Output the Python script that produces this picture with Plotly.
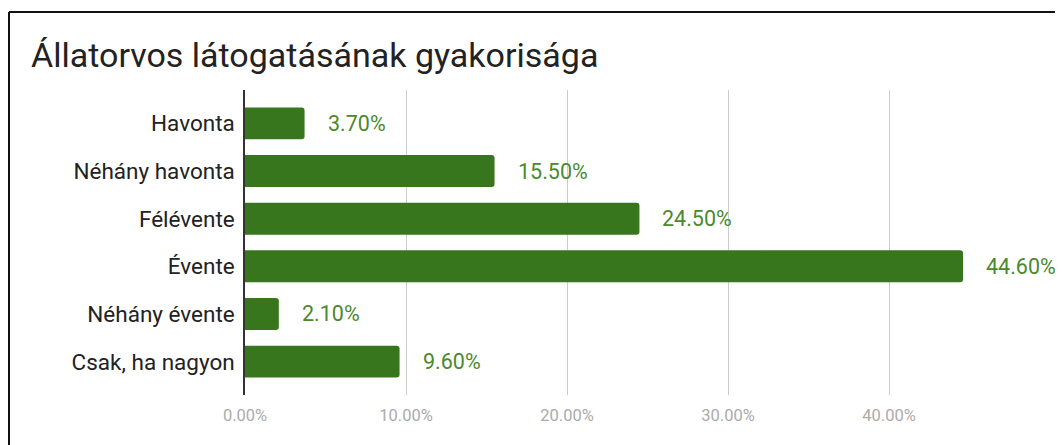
import plotly.graph_objects as go

categories = ["Havonta", "Néhány havonta", "Félévente", "Évente", "Néhány évente", "Csak, ha nagyon"]
values = [3.70, 15.50, 24.50, 44.60, 2.10, 9.60]
tick_vals = [0, 10, 20, 30, 40, 50]
tick_text = ["0.00%", "10.00%", "20.00%", "30.00%", "40.00%", ""]
title_text = "Állatorvos látogatásának gyakorisága"

bar_color = "#38761d"
label_color = "#4a8a2c"

# page body has an 8px margin; plot area targets page x 245..1050, y 90..395
PX0, PX1, PY0, PY1 = 245, 1050, 90, 395
PW, PH = PX1 - PX0, PY1 - PY0

fig = go.Figure()
fig.add_trace(go.Bar(
    x=values, y=categories, orientation="h",
    marker=dict(color=bar_color, cornerradius=3, line=dict(width=0)),
    width=0.67, hoverinfo="skip",
))

for c, v in zip(categories, values):
    fig.add_annotation(x=v, y=c, text=f"{v:.2f}%", showarrow=False,
                       xanchor="left", yanchor="middle", xshift=21,
                       font=dict(family="Roboto", size=21.5, color=label_color))

fig.update_layout(
    width=1055, height=437,
    margin=dict(l=PX0 - 8, r=1055 + 8 - PX1, t=PY0 - 8, b=437 + 8 - PY1),
    paper_bgcolor="white", plot_bgcolor="white",
    showlegend=False,
    annotations=list(fig.layout.annotations) + [
        dict(text=title_text, xref="paper", yref="paper",
             x=(29 - PX0) / PW, y=(PY1 - 55) / PH, xanchor="left", yanchor="middle",
             showarrow=False, font=dict(family="Roboto", size=34, color="#222222"))
    ],
    shapes=[
        dict(type="line", xref="paper", yref="paper",
             x0=(9 - PX0) / PW, x1=(9 - PX0) / PW, y0=(PY1 - 12) / PH, y1=-1,
             line=dict(color="#111111", width=2)),
        dict(type="line", xref="paper", yref="paper",
             x0=(9 - PX0) / PW, x1=2, y0=(PY1 - 12) / PH, y1=(PY1 - 12) / PH,
             line=dict(color="#111111", width=2)),
    ],
)

fig.update_xaxes(range=[0, 50], tickvals=tick_vals, ticktext=tick_text,
                 showgrid=True, gridcolor="#cccccc", gridwidth=1,
                 zeroline=False, showline=False, ticks="",
                 ticklabelstandoff=8,
                 tickfont=dict(family="Roboto", size=16.5, color="#ababab"))
fig.update_yaxes(categoryorder="array", categoryarray=categories,
                 autorange=False, range=[5.7, -0.7],
                 showgrid=False, zeroline=False,
                 showline=True, linecolor="#333333", linewidth=1.5,
                 ticks="", ticklabelstandoff=4,
                 tickfont=dict(family="Roboto", size=22.5, color="#222222"))

fig.write_html("out.html")
